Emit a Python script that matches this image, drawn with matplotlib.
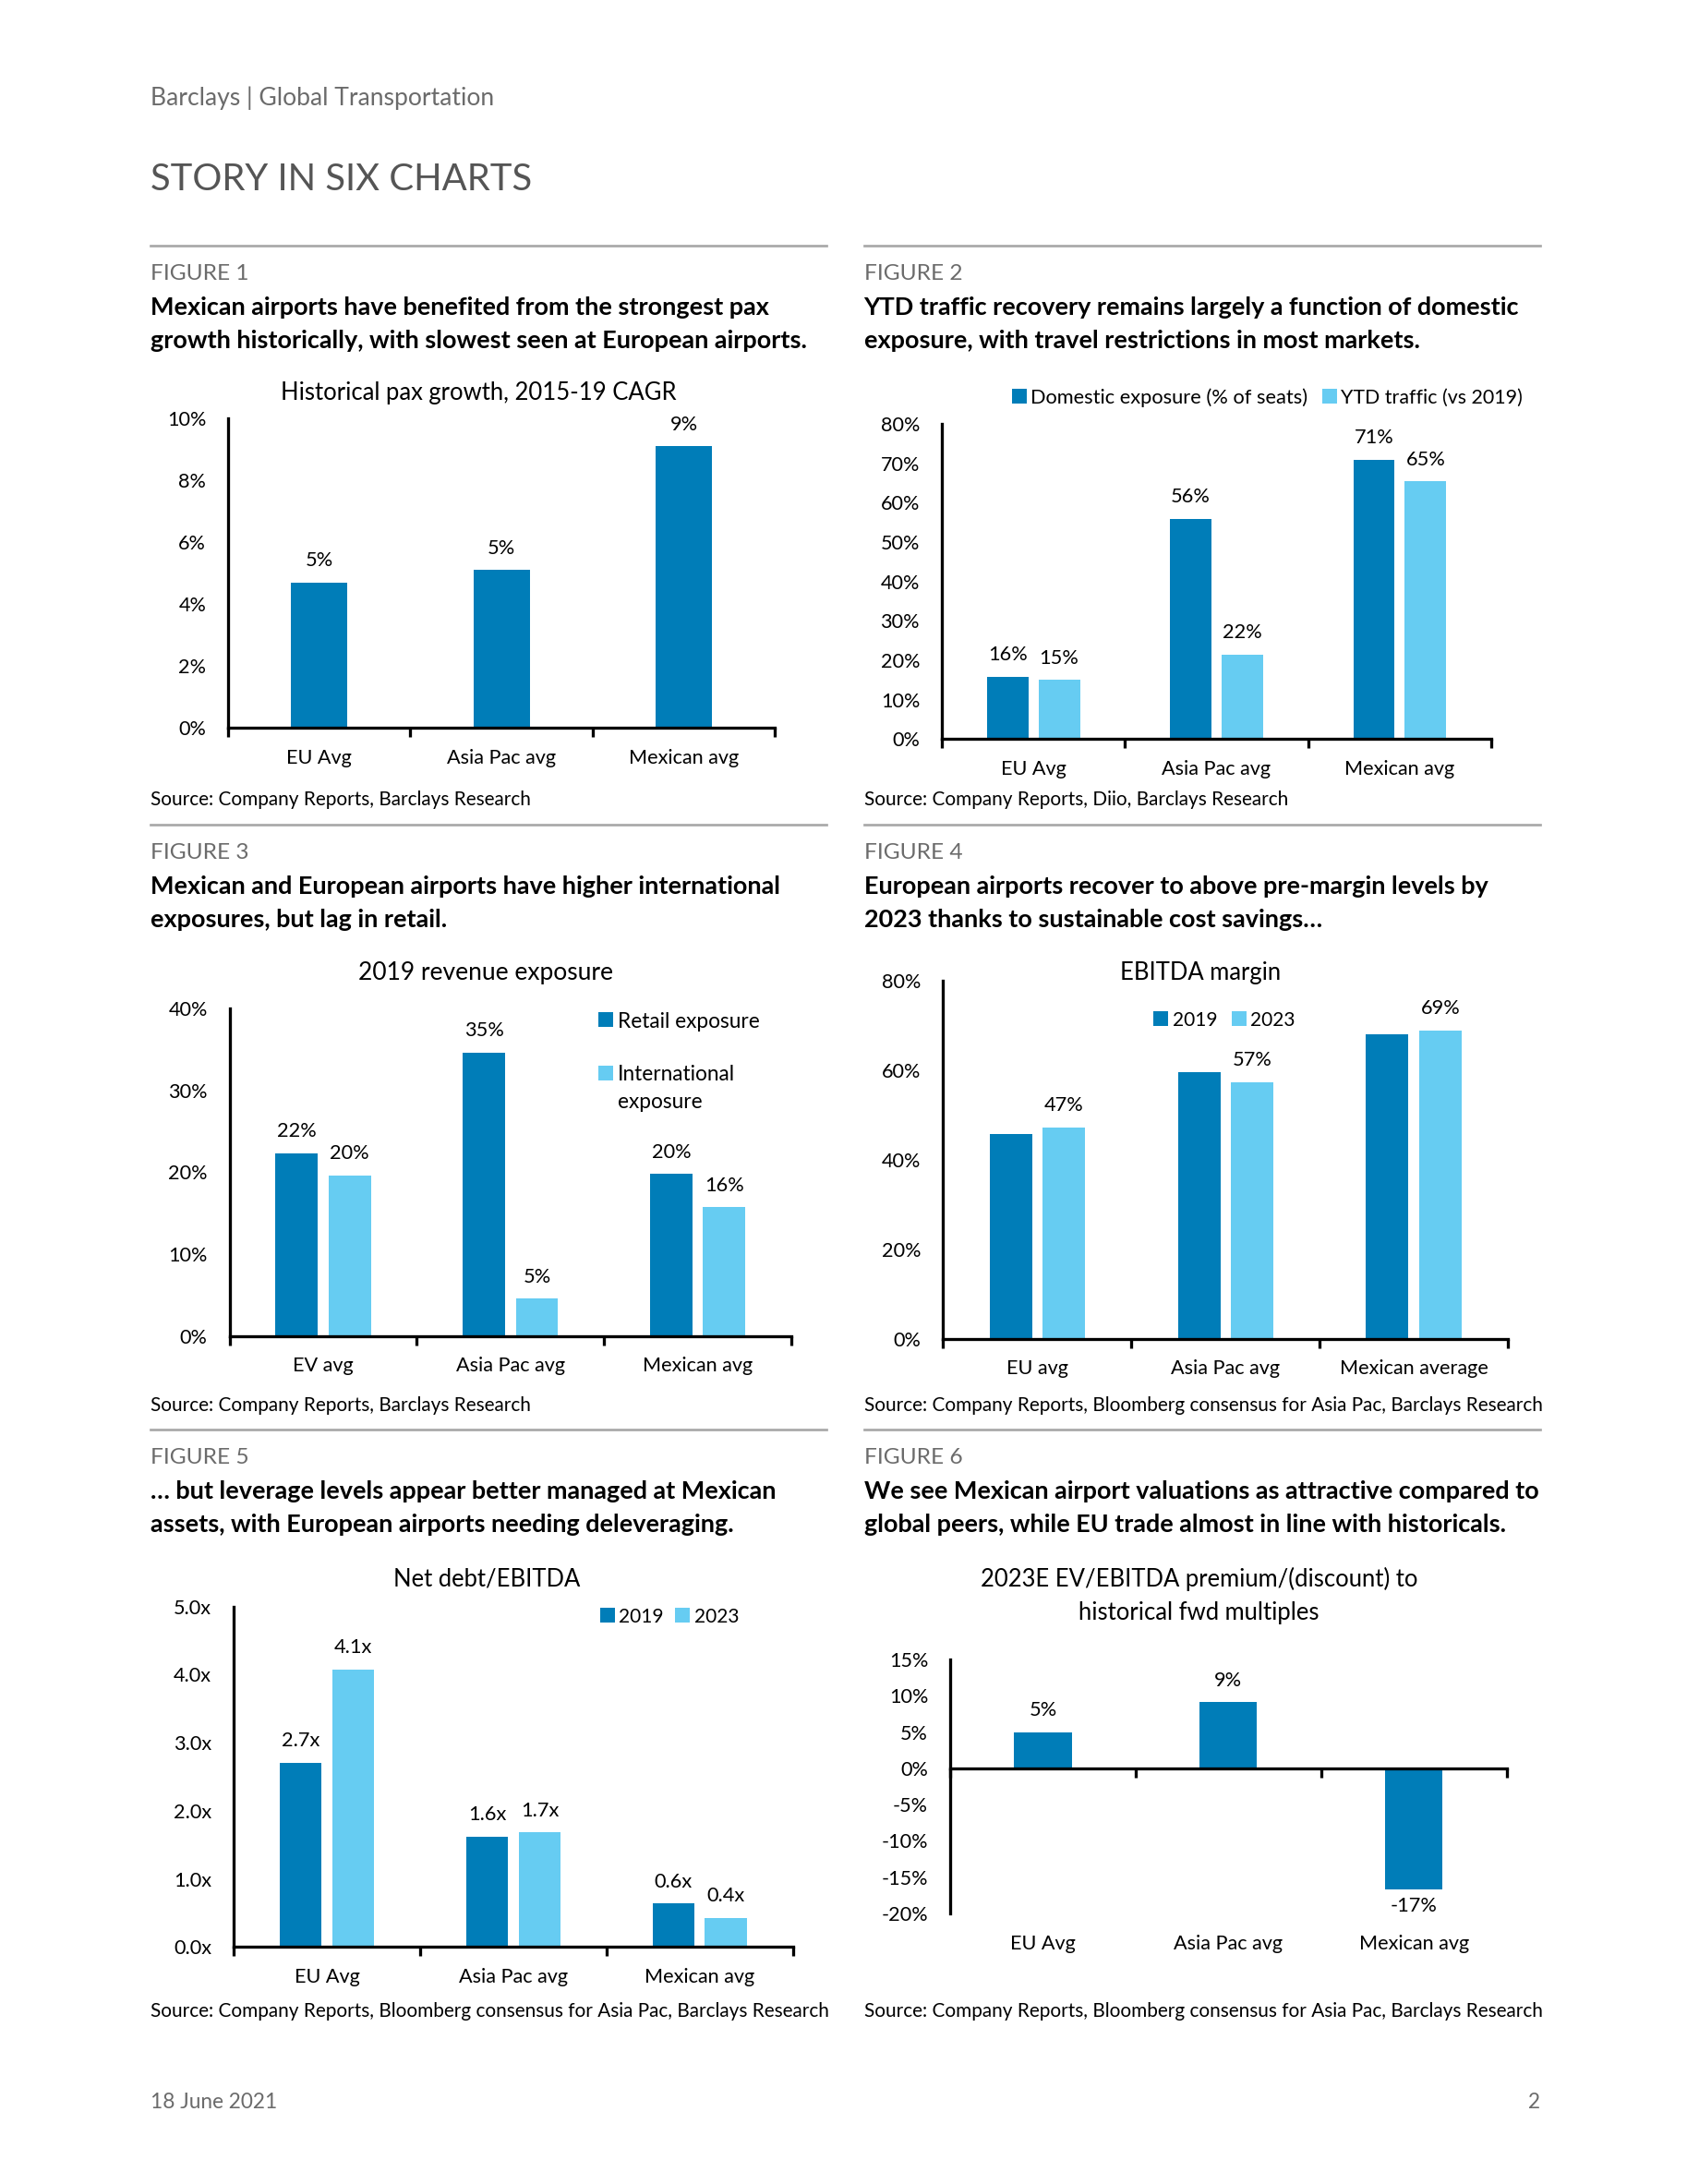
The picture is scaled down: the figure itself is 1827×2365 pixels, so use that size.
import matplotlib
matplotlib.use("Agg")
import matplotlib.pyplot as plt
from matplotlib.lines import Line2D
from matplotlib.patches import Rectangle
import numpy as np

# ---- data ----
cats_pax = ["EU Avg", "Asia Pac avg", "Mexican avg"]
pax_cagr = [4.7, 5.1, 9.1]
pax_ticks = [0, 2, 4, 6, 8, 10]

cats_dom = ["EU Avg", "Asia Pac avg", "Mexican avg"]
dom_exposure = [15.9, 55.9, 71.0]
ytd_traffic = [15.1, 21.5, 65.4]
dom_ticks = [0, 10, 20, 30, 40, 50, 60, 70, 80]

cats_rev = ["EV avg", "Asia Pac avg", "Mexican avg"]
retail_exp = [22.3, 34.6, 19.8]
intl_exp = [19.6, 4.6, 15.7]
rev_ticks = [0, 10, 20, 30, 40]

cats_margin = ["EU avg", "Asia Pac avg", "Mexican average"]
margin_2019 = [45.7, 59.6, 68.0]
margin_2023 = [47.2, 57.3, 68.9]
margin_ticks = [0, 20, 40, 60, 80]

cats_lev = ["EU Avg", "Asia Pac avg", "Mexican avg"]
lev_2019 = [2.71, 1.62, 0.64]
lev_2023 = [4.08, 1.68, 0.43]
lev_ticks = [0, 1, 2, 3, 4, 5]

cats_val = ["EU Avg", "Asia Pac avg", "Mexican avg"]
ev_premium = [5.0, 9.1, -16.7]
val_ticks = [-20, -15, -10, -5, 0, 5, 10, 15]

DARK = "#007DB8"
LIGHT = "#66CCF2"
GREY = "#6B6B6B"

plt.rcParams["font.family"] = ["Lato", "DejaVu Sans"]
LBL = 7.25     # ticks / category names
VAL = 7.3      # bar value labels
LEG = 7.6      # legend text
CT = 8.6       # chart titles

fig = plt.figure(figsize=(8.5, 11), dpi=215)
W, H = 1213.0, 1566.0


def fx(x):
    return x / W


def fy(y):
    return 1 - y / H


def put(x, y, s, size, **kw):
    kw.setdefault("va", "center")
    fig.text(fx(x), fy(y + 1.5), s, fontsize=size, **kw)


def key(x, y, color, text, size=LEG):
    fig.add_artist(Rectangle((fx(x), fy(y + 4.3)), 8.5 / W, 8.6 / H, color=color,
                             transform=fig.transFigure))
    put(x + 13, y, text, size)


def base_axes(x0, x1, ytop, ybot, cats, ticks, fmt):
    ax = fig.add_axes([fx(x0), fy(ybot), (x1 - x0) / W, (ybot - ytop) / H])
    ax.patch.set_alpha(0)
    ax.set_xlim(-0.5, len(cats) - 0.5)
    ax.set_ylim(ticks[0], ticks[-1])
    for side in ("top", "right"):
        ax.spines[side].set_visible(False)
    for side in ("left", "bottom"):
        ax.spines[side].set_linewidth(1.1)
    ax.set_xticks(np.arange(len(cats) + 1) - 0.5)
    ax.set_xticklabels([])
    ax.set_xticks(range(len(cats)), minor=True)
    ax.set_xticklabels(cats, minor=True, fontsize=LBL)
    ax.tick_params(axis="x", which="major", length=3.5, width=1.1, direction="out")
    ax.tick_params(axis="x", which="minor", length=0, pad=7.5)
    ax.set_yticks(ticks)
    ax.set_yticklabels([fmt(v) for v in ticks], fontsize=LBL)
    ax.tick_params(axis="y", length=0, pad=8)
    return ax


def label_bars(ax, xs, vals, fmt):
    for x, v in zip(xs, vals):
        if v >= 0:
            ax.annotate(fmt(v), (x, v), xytext=(0, 4.5), textcoords="offset points",
                        ha="center", va="bottom", fontsize=VAL)
        else:
            ax.annotate(fmt(v), (x, v), xytext=(0, -2.5), textcoords="offset points",
                        ha="center", va="top", fontsize=VAL)


pct = lambda v: f"{v:.0f}%"
mult = lambda v: f"{v:.1f}x"

# ---- page furniture ----
put(108, 69, "Barclays | Global Transportation", 8.9, color=GREY)
put(108, 127, "STORY IN SIX CHARTS", 13.4, color="#555555")
put(108, 1506, "18 June 2021", 7.6, color=GREY)
put(1107, 1506, "2", 7.6, color=GREY, ha="right")

for y in [176, 591, 1025]:
    for x0, x1 in [(108, 594), (621, 1107)]:
        fig.add_artist(Line2D([fx(x0), fx(x1)], [fy(y), fy(y)], color="#A8A8A8", lw=0.9,
                              transform=fig.transFigure))

heads = [
    (108, 176, "FIGURE 1", "Mexican airports have benefited from the strongest pax",
     "growth historically, with slowest seen at European airports."),
    (621, 176, "FIGURE 2", "YTD traffic recovery remains largely a function of domestic",
     "exposure, with travel restrictions in most markets."),
    (108, 591, "FIGURE 3", "Mexican and European airports have higher international",
     "exposures, but lag in retail."),
    (621, 591, "FIGURE 4", "European airports recover to above pre-margin levels by",
     "2023 thanks to sustainable cost savings\u2026"),
    (108, 1025, "FIGURE 5", "\u2026 but leverage levels appear better managed at Mexican",
     "assets, with European airports needing deleveraging."),
    (621, 1025, "FIGURE 6", "We see Mexican airport valuations as attractive compared to",
     "global peers, while EU trade almost in line with historicals."),
]
for x, y, tag, l1, l2 in heads:
    put(x, y + 19, tag, 8.2, color=GREY)
    put(x, y + 43, l1, 9.05, fontweight="bold")
    put(x, y + 67, l2, 9.05, fontweight="bold")

sources = [
    (108, 572, "Source: Company Reports, Barclays Research"),
    (621, 572, "Source: Company Reports, Diio, Barclays Research"),
    (108, 1006, "Source: Company Reports, Barclays Research"),
    (621, 1006, "Source: Company Reports, Bloomberg consensus for Asia Pac, Barclays Research"),
    (108, 1441, "Source: Company Reports, Bloomberg consensus for Asia Pac, Barclays Research"),
    (621, 1441, "Source: Company Reports, Bloomberg consensus for Asia Pac, Barclays Research"),
]
for x, y, s in sources:
    put(x, y, s, 6.95)

W_ONE = 0.31
W_TWO = 0.226
OFF = 0.141

# ---- Figure 1 ----
ax1 = base_axes(164, 557, 300, 522, cats_pax, pax_ticks, pct)
x = np.arange(len(cats_pax))
ax1.bar(x, pax_cagr, W_ONE, color=DARK)
label_bars(ax1, x, pax_cagr, pct)
put(344, 280, "Historical pax growth, 2015-19 CAGR", CT, ha="center")

# ---- Figure 2 ----
ax2 = base_axes(677, 1072, 304, 530, cats_dom, dom_ticks, pct)
x = np.arange(len(cats_dom))
ax2.bar(x - OFF, dom_exposure, W_TWO, color=DARK)
ax2.bar(x + OFF, ytd_traffic, W_TWO, color=LIGHT)
label_bars(ax2, x - OFF, dom_exposure, pct)
label_bars(ax2, x + OFF, ytd_traffic, pct)
key(728, 284, DARK, "Domestic exposure (% of seats)", 7.35)
key(951, 284, LIGHT, "YTD traffic (vs 2019)", 7.15)

# ---- Figure 3 ----
ax3 = base_axes(165, 569, 723, 958, cats_rev, rev_ticks, pct)
x = np.arange(len(cats_rev))
ax3.bar(x - OFF, retail_exp, W_TWO, color=DARK)
ax3.bar(x + OFF, intl_exp, W_TWO, color=LIGHT)
label_bars(ax3, x - OFF, retail_exp, pct)
label_bars(ax3, x + OFF, intl_exp, pct)
put(349, 696, "2019 revenue exposure", 8.85, ha="center")
key(431, 731, DARK, "Retail exposure")
key(431, 769, LIGHT, "International")
put(444, 789, "exposure", LEG)

# ---- Figure 4 ----
ax4 = base_axes(678, 1084, 703, 960, cats_margin, margin_ticks, pct)
x = np.arange(len(cats_margin))
ax4.bar(x - OFF, margin_2019, W_TWO, color=DARK)
ax4.bar(x + OFF, margin_2023, W_TWO, color=LIGHT)
label_bars(ax4, x + OFF, margin_2023, pct)
put(863, 696, "EBITDA margin", CT, ha="center")
key(830, 730, DARK, "2019", 7.0)
key(886, 730, LIGHT, "2023", 7.0)

# ---- Figure 5 ----
ax5 = base_axes(168, 570, 1152, 1396, cats_lev, lev_ticks, mult)
x = np.arange(len(cats_lev))
ax5.bar(x - OFF, lev_2019, W_TWO, color=DARK)
ax5.bar(x + OFF, lev_2023, W_TWO, color=LIGHT)
label_bars(ax5, x - OFF, lev_2019, mult)
label_bars(ax5, x + OFF, lev_2023, mult)
put(350, 1131, "Net debt/EBITDA", CT, ha="center")
key(432, 1158, DARK, "2019", 7.0)
key(486, 1158, LIGHT, "2023", 7.0)

# ---- Figure 6 ----
ax6 = base_axes(683, 1083, 1190, 1372, cats_val, val_ticks, pct)
ax6.spines["bottom"].set_position(("data", 0))
ax6.set_xticklabels([], minor=True)
x = np.arange(len(cats_val))
ax6.bar(x, ev_premium, W_ONE, color=DARK)
label_bars(ax6, x, ev_premium, pct)
for i, c in enumerate(cats_val):
    ax6.text(i, -0.12, c, transform=ax6.get_xaxis_transform(), ha="center", va="center",
             fontsize=LBL)
put(862, 1131, "2023E EV/EBITDA premium/(discount) to", CT, ha="center")
put(862, 1155, "historical fwd multiples", CT, ha="center")

fig.savefig("out.png", dpi=215)
